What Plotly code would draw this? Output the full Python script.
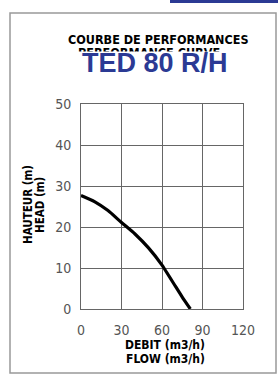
import plotly.graph_objects as go

# Data
flow = [0, 10, 20, 30, 40, 50, 60, 70, 75, 81]
head = [27.7, 26.2, 24.0, 21.1, 18.3, 14.9, 10.7, 5.5, 2.9, 0]
x_ticks = [0, 30, 60, 90, 120]
y_ticks = [0, 10, 20, 30, 40, 50]

W, H = 278, 382
L, R, T, B = 81, 35, 104, 73
pw, ph = W - L - R, H - T - B

def px(x):
    return (x - L) / pw

def py(y):
    return (H - B - y) / ph

NARROW = "DejaVu Sans Condensed, Liberation Sans Narrow, Arial Narrow, sans-serif"

fig = go.Figure()
fig.add_trace(go.Scatter(x=flow, y=head, mode="lines",
                         line=dict(color="black", width=3.2, shape="spline", smoothing=0.5),
                         hoverinfo="skip", showlegend=False))

grid = "#666666"
fig.update_layout(
    width=W, height=H,
    margin=dict(l=L, r=R, t=T, b=B),
    paper_bgcolor="white", plot_bgcolor="white",
    xaxis=dict(range=[0, 120], tickvals=x_ticks, showgrid=True, gridcolor=grid, gridwidth=1,
               showline=True, linecolor=grid, linewidth=1, mirror=True, zeroline=False,
               ticks="", ticklabelstandoff=8,
               tickfont=dict(family=NARROW, size=14, color="#555555")),
    yaxis=dict(range=[0, 50], tickvals=y_ticks, showgrid=True, gridcolor=grid, gridwidth=1,
               showline=True, linecolor=grid, linewidth=1, mirror=True, zeroline=False,
               ticks="", ticklabelstandoff=6,
               tickfont=dict(family=NARROW, size=14, color="#555555")),
    shapes=[
        dict(type="rect", xref="paper", yref="paper", x0=px(10), x1=px(276), y0=py(373), y1=py(13),
             line=dict(color="#999999", width=1.5), fillcolor="rgba(0,0,0,0)", layer="below"),
        dict(type="rect", xref="paper", yref="paper", x0=px(170), x1=px(278), y0=py(3), y1=py(-2),
             line=dict(width=0), fillcolor="#2B3A94"),
    ],
    annotations=[
        dict(text="<b>COURBE DE PERFORMANCES</b>", xref="paper", yref="paper", x=px(158), y=py(40),
             showarrow=False, font=dict(family=NARROW, size=12.5, color="black"), xanchor="center", yanchor="middle"),
        dict(text="<b>PERFORMANCE CURVE</b>", xref="paper", yref="paper", x=px(149), y=py(52.5),
             showarrow=False, font=dict(family=NARROW, size=12.5, color="black"), xanchor="center", yanchor="middle"),
        dict(text=" ", xref="paper", yref="paper", x=px(150), y=py(50.5), width=170, height=26,
             showarrow=False, bgcolor="white", xanchor="center", yanchor="top", borderpad=0),
        dict(text="TED 80 R/H", xref="paper", yref="paper", x=px(155), y=py(63),
             showarrow=False, font=dict(family="Liberation Sans", size=27, color="#2B3A94", weight=800),
             xanchor="center", yanchor="middle"),
        dict(text="<b>DEBIT (m3/h)</b>", xref="paper", yref="paper", x=px(165), y=py(345),
             showarrow=False, font=dict(family=NARROW, size=12, color="black"), xanchor="center", yanchor="middle"),
        dict(text="<b>FLOW (m3/h)</b>", xref="paper", yref="paper", x=px(165), y=py(359),
             showarrow=False, font=dict(family=NARROW, size=12, color="black"), xanchor="center", yanchor="middle"),
        dict(text="<b>HAUTEUR (m)</b>", xref="paper", yref="paper", x=px(28), y=py(205), textangle=-90,
             showarrow=False, font=dict(family=NARROW, size=11.5, color="black"), xanchor="center", yanchor="middle"),
        dict(text="<b>HEAD (m)</b>", xref="paper", yref="paper", x=px(40), y=py(205), textangle=-90,
             showarrow=False, font=dict(family=NARROW, size=11.5, color="black"), xanchor="center", yanchor="middle"),
    ],
)

fig.write_html("out.html", config={"displayModeBar": False},
               post_script="document.body.style.margin='0';")
